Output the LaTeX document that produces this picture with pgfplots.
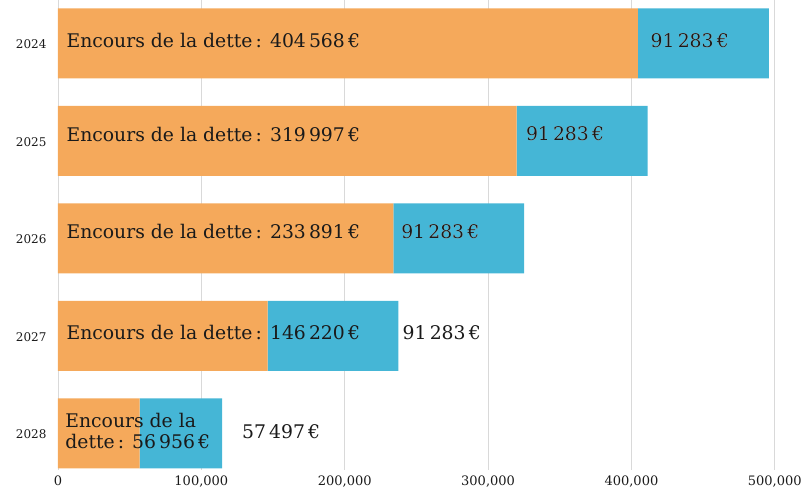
\documentclass[border=0pt]{standalone}
\usepackage{fontspec}
\setmainfont{DejaVu Serif}
\usepackage{pgfplots}
\pgfplotsset{compat=1.18}
\usetikzlibrary{calc}
\usepackage[outline]{contour}
\contourlength{1.4pt}
\definecolor{orangebar}{HTML}{F5A95B}
\definecolor{bluebar}{HTML}{45B6D6}
\definecolor{txt}{HTML}{1A1A1A}
\newcommand{\lbl}{\fontsize{18.8}{21}\selectfont\color{txt}}
\newcommand{\yl}[1]{\hbox{\fontsize{12}{14}\selectfont #1}}
\newcommand{\xl}[1]{\hbox{\fontsize{13}{15}\selectfont #1}}
\begin{document}
\begin{tikzpicture}
\begin{axis}[
    name=ax,
    scale only axis,
    width=717pt, height=470pt,
    xbar stacked,
    bar width=70pt,
    y dir=reverse,
    xmin=0, xmax=500000,
    ymin=-0.44, ymax=4.38,
    ytick={0,1,2,3,4},
    yticklabels={\yl{2024},\yl{2025},\yl{2026},\yl{2027},\yl{2028}},
    xtick={0,100000,200000,300000,400000,500000},
    xticklabels={\xl{0},\xl{100,000},\xl{200,000},\xl{300,000},\xl{400,000},\xl{500,000}},
    scaled x ticks=false,
    axis line style={draw=none},
    xmajorgrids,
    grid style={black!15, line width=0.9pt},
    major tick length=0pt,
    tick label style={text=txt},
    yticklabel style={xshift=-8pt, yshift=-1pt},
    xticklabel style={yshift=-2pt},
    clip=false,
]
\addplot[draw=none, fill=orangebar] coordinates {(404568,0) (319997,1) (233891,2) (146220,3) (56956,4)};
\addplot[draw=none, fill=bluebar] coordinates {(91283,0) (91283,1) (91283,2) (91283,3) (57497,4)};

\coordinate (a0) at (axis cs:3500,-0.03);
\coordinate (a1) at (axis cs:3500,0.93);
\coordinate (a2) at (axis cs:3500,1.93);
\coordinate (a3) at (axis cs:3500,2.97);
\coordinate (a4) at (axis cs:5000,3.98);
\coordinate (b0) at (axis cs:411000,-0.03);
\coordinate (b1) at (axis cs:324000,0.93);
\coordinate (b2) at (axis cs:237000,1.93);
\coordinate (b3) at (axis cs:238000,2.97);
\coordinate (b4) at (axis cs:126000,3.98);
\end{axis}
% value labels on top of the bars
\node[anchor=west, font=\lbl] at (a0) {Encours de la dette\,: 404\,568\,€};
\node[anchor=west, font=\lbl] at (a1) {Encours de la dette\,: 319\,997\,€};
\node[anchor=west, font=\lbl] at (a2) {Encours de la dette\,: 233\,891\,€};
\node[anchor=west, font=\lbl] at (a3) {Encours de la dette\,: 146\,220\,€};
\node[anchor=west, font=\lbl, align=left, inner sep=0pt] at (a4) {Encours de la\\dette\,: 56\,956\,€};
\node[anchor=west, font=\lbl] at (b0) {\contour{white}{91\,283\,€}};
\node[anchor=west, font=\lbl] at (b1) {\contour{white}{91\,283\,€}};
\node[anchor=west, font=\lbl] at (b2) {\contour{white}{91\,283\,€}};
\node[anchor=west, font=\lbl] at (b3) {91\,283\,€};
\node[anchor=west, font=\lbl] at (b4) {57\,497\,€};
\path ($(ax.south west)+(-58pt,-20pt)$) rectangle ++(805pt,490pt);
\end{tikzpicture}
\end{document}
